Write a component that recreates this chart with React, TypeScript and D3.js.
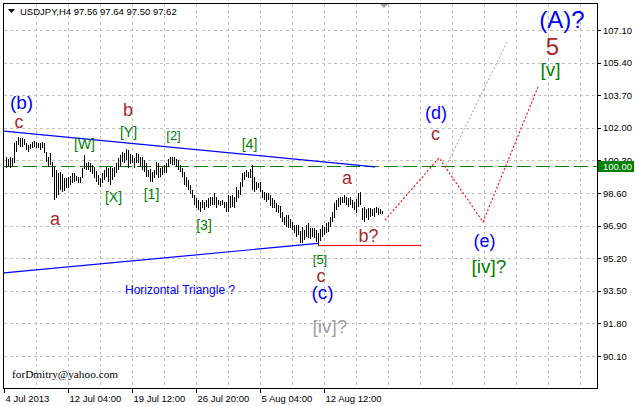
import React from "react";
import * as d3 from "d3";

// ---- data (USDJPY H4) ----
const highs = [
  100.48, 100.37, 100.48, 100.43, 101.21, 101.31, 101.52, 101.47, 101.47, 101.42,
  101.21, 101.10, 101.16, 101.26, 101.31, 101.26, 101.21, 101.21, 101.26, 101.21,
  100.74, 100.48, 100.69, 100.22, 99.96, 99.80, 99.64, 99.70, 99.59, 99.38,
  99.38, 99.43, 99.49, 99.64, 99.64, 99.49, 99.43, 99.43, 99.90, 100.58,
  100.17, 100.22, 100.17, 100.06, 99.96, 99.75, 99.54, 99.38, 99.64, 99.80,
  99.96, 99.90, 99.96, 99.90, 99.96, 100.17, 100.43, 100.58, 100.74, 100.69,
  100.90, 100.84, 100.63, 100.58, 100.43, 100.69, 100.63, 100.48, 100.48, 100.32,
  100.17, 99.80, 99.85, 99.70, 99.80, 100.22, 100.17, 99.90, 99.96, 100.06,
  100.17, 100.37, 100.48, 100.48, 100.48, 100.37, 100.32, 100.06, 99.90, 99.70,
  99.43, 99.28, 99.02, 98.76, 98.50, 98.34, 98.24, 98.13, 98.24, 98.13,
  98.24, 98.34, 98.39, 98.39, 98.60, 98.39, 98.24, 98.18, 98.24, 98.13,
  98.13, 98.50, 98.44, 98.50, 98.39, 98.91, 98.76, 99.17, 99.64, 99.70,
  99.80, 99.70, 99.85, 100.06, 99.43, 99.17, 99.12, 99.17, 98.76, 98.65,
  98.60, 98.60, 98.50, 98.34, 98.24, 98.08, 97.98, 97.92, 97.61, 97.35,
  97.45, 97.45, 97.25, 97.09, 96.93, 96.93, 96.93, 96.62, 96.83, 96.67,
  96.93, 97.04, 96.78, 96.78, 96.78, 96.67, 96.52, 96.73, 96.93, 96.83,
  97.04, 97.09, 97.35, 97.61, 98.08, 98.24, 98.34, 98.39, 98.39, 98.50,
  98.39, 98.34, 98.39, 98.24, 98.13, 98.29, 98.60, 98.65, 97.82, 97.87,
  97.77, 97.82, 97.82, 97.77, 97.82, 97.87, 97.82, 97.77, 97.64,
];
const lows = [
  99.90, 99.96, 99.90, 100.01, 100.17, 100.74, 101.10, 101.00, 101.00, 101.10,
  100.84, 100.74, 100.90, 100.95, 101.00, 100.95, 100.95, 100.84, 100.95, 100.69,
  100.22, 99.96, 100.06, 99.43, 98.24, 98.34, 98.50, 98.76, 98.65, 98.70,
  98.86, 98.86, 99.02, 99.12, 99.17, 99.23, 99.12, 99.12, 99.38, 99.85,
  99.80, 99.80, 99.70, 99.59, 99.38, 99.17, 99.02, 98.91, 99.12, 99.28,
  99.43, 99.17, 99.02, 99.28, 99.43, 99.64, 99.80, 99.96, 100.22, 100.17,
  100.32, 99.90, 100.11, 100.17, 99.90, 100.17, 100.17, 100.01, 99.80, 99.70,
  99.43, 99.43, 99.17, 99.17, 99.38, 99.54, 99.38, 99.43, 99.54, 99.64,
  99.64, 99.96, 100.11, 100.06, 100.06, 99.96, 99.80, 99.70, 99.43, 99.02,
  98.91, 98.76, 98.55, 98.34, 97.98, 97.82, 97.72, 97.61, 97.82, 97.72,
  97.87, 97.82, 97.92, 97.98, 97.98, 97.82, 97.98, 97.92, 97.98, 97.82,
  97.61, 97.61, 97.82, 97.87, 97.82, 98.13, 98.34, 98.50, 98.91, 99.28,
  99.43, 99.38, 99.38, 98.76, 98.65, 98.76, 98.86, 98.65, 98.34, 98.24,
  98.13, 98.24, 97.92, 97.82, 97.82, 97.61, 97.56, 97.30, 97.09, 96.93,
  96.83, 96.78, 96.78, 96.67, 96.52, 96.31, 96.41, 96.00, 96.00, 96.15,
  96.31, 96.26, 96.21, 96.31, 96.26, 96.05, 95.89, 96.10, 96.31, 96.41,
  96.52, 96.57, 96.83, 97.09, 97.30, 97.72, 97.87, 97.98, 98.08, 98.08,
  97.98, 97.87, 97.98, 97.82, 97.72, 97.56, 97.87, 97.98, 97.19, 97.09,
  97.30, 97.19, 97.35, 97.40, 97.35, 97.56, 97.45, 97.51, 97.50,
];

const priceTicks = [90.1, 91.8, 93.5, 95.2, 96.9, 98.6, 100.3, 102.0, 103.7, 105.4, 107.1];
const timeLabels = ["4 Jul 2013", "12 Jul 04:00", "19 Jul 12:00", "26 Jul 20:00", "5 Aug 04:00", "12 Aug 12:00"];
const timeLabelBars = [-1, 31, 63, 95, 127, 159];
const headerSymbol = "USDJPY,H4";
const headerQuote = [97.56, 97.64, 97.5, 97.62];
const levelPrice = 100.0;

// trendlines (bar index, price)
const upperTrendBars = [-1, 184.5];
const upperTrendPrices = [101.83, 99.96];
const lowerTrendBars = [-1, 156];
const lowerTrendPrices = [94.43, 95.97];
const supportBars = [156, 207.5];
const supportPrices = [95.84, 95.84];
const forecastBars = [189.5, 216.5, 238.5, 266];
const forecastPrices = [97.19, 100.43, 97.09, 104.13];
const altBars = [220, 250.5];
const altPrices = [100.01, 106.47];

const BLUE = "#0000ff";
const BROWN = "#a52a2a";
const GREEN = "#008000";
const GRAY = "#a0a0a0";

const waveTexts = ["(A)?", "5", "[v]", "(d)", "c", "(e)", "[iv]?", "(b)", "c", "b", "a", "a", "b?", "c", "(c)", "[iv]?", "[W]", "[Y]", "[2]", "[4]", "[X]", "[1]", "[3]", "[5]"];
const waveBars = [278, 273.25, 272.25, 215, 214.75, 239.25, 241.5, 7.75, 6.5, 61, 24.5, 170.5, 181.25, 157.5, 158.25, 162, 39.25, 61.25, 83.75, 121.75, 53.75, 72.75, 99, 157];
const wavePrices = [107.2, 105.8, 104.7, 102.46, 101.36, 95.78, 94.43, 102.98, 101.99, 102.62, 96.93, 99.07, 96.04, 93.96, 93.07, 91.3, 100.89, 101.52, 101.34, 100.89, 98.13, 98.29, 96.67, 94.9];
const waveColors = [BLUE, BROWN, GREEN, BLUE, BROWN, BLUE, GREEN, BLUE, BROWN, BROWN, BROWN, BROWN, BROWN, BROWN, BLUE, GRAY, GREEN, GREEN, GREEN, GREEN, GREEN, GREEN, GREEN, GREEN];
const waveSizes = [24, 24, 19, 18, 18, 18, 19, 19, 18, 18, 18, 18, 18, 18, 19, 19, 14, 14, 13, 14, 14, 14, 14, 13];

const W = 635;
const H = 406;
const L = 3.5, T = 3.5, R = 597.5, B = 388.5;
const FONT = "'Liberation Sans', Arial, sans-serif";

export default function App() {
  const x = d3.scaleLinear().domain([0, 188]).range([6, 382]);
  const y = d3.scaleLinear().domain([90.1, 107.1]).range([356, 30]);
  const vGrid = d3.range(15, 290, 16);
  const line = d3
    .line<[number, number]>()
    .x((d) => x(d[0]))
    .y((d) => y(d[1]));
  const zip = (a: number[], b: number[]) => a.map((v, k) => [v, b[k]] as [number, number]);

  return (
    <svg
      width={W}
      height={H}
      style={{ position: "fixed", left: 0, top: 0, background: "#fff" }}
      fontFamily={FONT}
    >
      <rect x={0} y={0} width={W} height={H} fill="#fff" />
      {/* grid */}
      {priceTicks.map((p) => (
        <line key={"h" + p} x1={L} x2={R} y1={Math.round(y(p)) + 0.5} y2={Math.round(y(p)) + 0.5}
          stroke="#c0c0c0" strokeDasharray="3 3" shapeRendering="crispEdges" />
      ))}
      {vGrid.map((i) => (
        <line key={"v" + i} x1={Math.round(x(i)) + 0.5} x2={Math.round(x(i)) + 0.5} y1={T} y2={B}
          stroke="#c0c0c0" strokeDasharray="3 3" shapeRendering="crispEdges" />
      ))}
      {/* level line */}
      <line x1={L} x2={R} y1={Math.round(y(levelPrice)) + 0.5} y2={Math.round(y(levelPrice)) + 0.5}
        stroke={GREEN} strokeDasharray="14 5" shapeRendering="crispEdges" />
      {/* trend lines */}
      <path d={line(zip(upperTrendBars, upperTrendPrices)) || ""} stroke={BLUE} strokeWidth={1.2} fill="none" />
      <path d={line(zip(lowerTrendBars, lowerTrendPrices)) || ""} stroke={BLUE} strokeWidth={1.2} fill="none" />
      <path d={line(zip(supportBars, supportPrices)) || ""} stroke="#ff0000" strokeWidth={1} fill="none" shapeRendering="crispEdges" />
      <path d={line(zip(forecastBars, forecastPrices)) || ""} stroke="#ff0000" strokeWidth={1.1} strokeDasharray="2 2" fill="none" />
      <path d={line(zip(altBars, altPrices)) || ""} stroke={GRAY} strokeWidth={1} strokeDasharray="2 2" fill="none" />
      {/* bars */}
      {highs.map((h, i) => {
        const xx = Math.round(x(i)) + 0.5;
        const y1 = Math.round(y(h));
        let y2 = Math.round(y(lows[i]));
        if (y2 - y1 < 1) y2 = y1 + 1;
        return <line key={"b" + i} x1={xx} x2={xx} y1={y1} y2={y2} stroke="#000" shapeRendering="crispEdges" />;
      })}
      {/* wave labels */}
      {waveTexts.map((t, k) => (
        <text key={"w" + k} x={x(waveBars[k])} y={y(wavePrices[k])} fill={waveColors[k]}
          fontSize={waveSizes[k]} textAnchor="middle">{t}</text>
      ))}
      <text x={x(59.5)} y={y(93.33)} fill={BLUE} fontSize={12}>Horizontal Triangle ?</text>
      <text x={12} y={378} fontFamily="'Liberation Serif', 'Times New Roman', serif" fontSize={11.3} fill="#000">forDmitry@yahoo.com</text>
      {/* shift marker */}
      <polygon points="380,4 388,4 384,8" fill={GRAY} />
      {/* frame */}
      <rect x={L} y={T} width={R - L} height={B - T} fill="none" stroke="#000" shapeRendering="crispEdges" />
      {/* header */}
      <polygon points="8,9 15,9 11.5,13" fill="#000" />
      <text x={20} y={14.5} fontSize={9.5} fill="#000">
        {headerSymbol + "  " + headerQuote.map((v) => v.toFixed(2)).join(" ")}
      </text>
      {/* price axis */}
      {priceTicks.map((p) => (
        <g key={"pt" + p}>
          <line x1={R} x2={R + 3.5} y1={Math.round(y(p)) + 0.5} y2={Math.round(y(p)) + 0.5} stroke="#000" shapeRendering="crispEdges" />
          <text x={603} y={y(p) + 3.5} fontSize={9.5} fill="#000">{p.toFixed(2)}</text>
        </g>
      ))}
      <rect x={598} y={Math.round(y(levelPrice)) - 5} width={36} height={11} fill={GREEN} />
      <text x={603} y={y(levelPrice) + 3.5} fontSize={9.5} fill="#fff">{levelPrice.toFixed(2)}</text>
      {/* time axis */}
      {timeLabels.map((t, k) => {
        const xx = Math.round(x(timeLabelBars[k])) + 0.5;
        return (
          <g key={"t" + k}>
            <line x1={xx} x2={xx} y1={B} y2={B + 4} stroke="#000" shapeRendering="crispEdges" />
            <text x={xx + 1} y={401.5} fontSize={9.5} fill="#000">{t}</text>
          </g>
        );
      })}
    </svg>
  );
}
